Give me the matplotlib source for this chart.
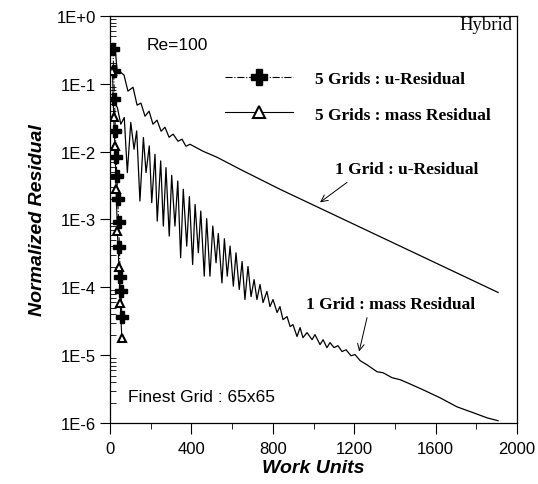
import matplotlib
matplotlib.use("Agg")
import matplotlib.pyplot as plt
from matplotlib.ticker import FixedLocator, FixedFormatter, LogLocator, NullFormatter

SANS = "Liberation Sans"
SERIF = "Liberation Serif"

# 1 grid, u-residual (work units, residual)
u1_work = [25, 34, 69, 88, 113, 133, 152, 172, 192, 211, 231, 251, 270, 290, 310,
           334, 354, 373, 393, 457, 526, 639, 835, 1907]
u1_res = [0.35, 0.165, 0.134, 0.078, 0.089, 0.0485, 0.0519, 0.0333, 0.0395, 0.0254,
          0.0291, 0.0200, 0.0229, 0.0163, 0.0181, 0.01425, 0.01525, 0.0120, 0.01285,
          0.01014, 0.00826, 0.0055, 0.00279, 8.4e-5]

# 1 grid, mass residual
m1_work = [25, 36, 53, 70, 85, 102, 118, 131, 147, 164, 177, 193, 205, 221, 232, 249,
           262, 275, 291, 303, 319, 333, 347, 360, 377, 390, 406, 418, 434, 446, 463,
           475, 491, 505, 521, 532, 550, 562, 576, 590, 606, 619, 635, 649, 663, 678,
           693, 708, 722, 737, 752, 771, 786, 801, 821, 835, 850, 870, 885, 899, 919,
           934, 948, 968, 993, 1007, 1032, 1047, 1066, 1081, 1101, 1120, 1140, 1160,
           1184, 1204, 1229, 1263, 1312, 1342, 1386, 1425, 1460, 1538, 1622, 1705,
           1784, 1853, 1907]
m1_res = [0.0501, 0.0448, 0.0254, 0.0319, 0.00491, 0.0269, 0.01085, 0.0202, 0.00187,
          0.01615, 0.00491, 0.01214, 0.00177, 0.00916, 0.000947, 0.0073, 0.0008,
          0.00582, 0.000569, 0.00448, 0.0008, 0.00369, 0.000273, 0.00279, 0.000405,
          0.00217, 0.000217, 0.00167, 0.000323, 0.00133, 0.000146, 0.00103, 0.000146,
          0.0008, 0.00023, 0.000623, 0.000116, 0.00052, 0.000146, 0.000405, 0.000104,
          0.000323, 9.3e-5, 0.00024, 6.6e-5, 0.000203, 7.3e-5, 0.00013, 6.6e-5,
          0.00011, 5.96e-5, 8.7e-5, 5.2e-5, 6.6e-5, 4.25e-5, 5.2e-5, 3.34e-5, 3.7e-5,
          2.64e-5, 2.82e-5, 1.88e-5, 2.55e-5, 1.81e-5, 2.15e-5, 1.69e-5, 2.01e-5,
          1.43e-5, 1.69e-5, 1.29e-5, 1.53e-5, 1.29e-5, 1.38e-5, 1.13e-5, 1.2e-5,
          9.8e-6, 1.02e-5, 8.3e-6, 7.2e-6, 5.7e-6, 5.5e-6, 4.65e-6, 4.35e-6, 3.93e-6,
          3.09e-6, 2.35e-6, 1.73e-6, 1.42e-6, 1.19e-6, 1.08e-6]

# 5 grids
u5_work = [14, 18, 22, 26, 30, 34, 38, 42, 46, 50, 54, 58]
u5_res = [0.326, 0.154, 0.0594, 0.02, 0.00826, 0.00433, 0.00198, 0.000906,
          0.000387, 0.000144, 8.7e-5, 3.7e-5]
m5_work = [12, 18, 24, 30, 36, 44, 50, 58]
m5_res = [0.154, 0.0322, 0.012, 0.00279, 0.000667, 0.000196, 5.96e-5, 1.81e-5]

y_ticks = [1e-6, 1e-5, 1e-4, 1e-3, 1e-2, 1e-1, 1e0]
y_labels = ["1E-6", "1E-5", "1E-4", "1E-3", "1E-2", "1E-1", "1E+0"]
x_ticks = [0, 400, 800, 1200, 1600, 2000]

fig = plt.figure(figsize=(5.38, 4.85), dpi=100)
ax = fig.add_axes([0.2045, 0.1258, 0.7565, 0.8392])

ax.plot(u1_work, u1_res, color="black", lw=0.9)
ax.plot(m1_work, m1_res, color="black", lw=0.9)
ax.plot(u5_work, u5_res, color="black", lw=0.8, ls="-.", marker="P", ms=8,
        mfc="black", mec="black", label="5 Grids : u-Residual")
ax.plot(m5_work, m5_res, color="black", lw=0.8, marker="^", ms=6, mfc="white",
        mec="black", mew=1.5, label="5 Grids : mass Residual")

ax.set_yscale("log")
ax.set_xlim(0, 2000)
ax.set_ylim(1e-6, 1)
ax.yaxis.set_major_locator(FixedLocator(y_ticks))
ax.yaxis.set_major_formatter(FixedFormatter(y_labels))
ax.yaxis.set_minor_locator(LogLocator(base=10, subs=range(2, 10)))
ax.yaxis.set_minor_formatter(NullFormatter())
ax.set_xticks(x_ticks)
ax.set_xticks(range(200, 2000, 400), minor=True)

ax.tick_params(axis="y", which="major", direction="out", length=7, width=0.8,
               labelsize=12, pad=3)
ax.tick_params(axis="y", which="minor", direction="in", length=4, width=0.6)
ax.tick_params(axis="x", which="major", direction="out", length=8, width=0.8,
               labelsize=12, pad=5)
ax.tick_params(axis="x", which="minor", direction="out", length=4, width=0.6)
for lab in ax.get_xticklabels() + ax.get_yticklabels():
    lab.set_fontfamily(SANS)
for sp in ax.spines.values():
    sp.set_linewidth(0.9)

ax.set_xlabel("Work Units", fontfamily=SANS, fontsize=14, fontweight="bold",
              fontstyle="italic", labelpad=2)
ax.set_ylabel("Normalized Residual", fontfamily=SANS, fontsize=14,
              fontweight="bold", fontstyle="italic", labelpad=8)

ax.text(0.091, 0.931, "Re=100", transform=ax.transAxes, fontfamily=SANS,
        fontsize=12.5, va="center", ha="left")
ax.text(0.99, 0.978, "Hybrid", transform=ax.transAxes, fontfamily=SERIF,
        fontsize=13.5, va="center", ha="right")
ax.text(0.044, 0.064, "Finest Grid : 65x65", transform=ax.transAxes,
        fontfamily=SANS, fontsize=12.5, va="center", ha="left")
ax.text(0.730, 0.623, "1 Grid : u-Residual", transform=ax.transAxes,
        fontfamily=SERIF, fontsize=12.5, fontweight="bold", va="center", ha="center")
ax.text(0.690, 0.293, "1 Grid : mass Residual", transform=ax.transAxes,
        fontfamily=SERIF, fontsize=12.5, fontweight="bold", va="center", ha="center")

arrow = dict(arrowstyle="->", color="black", lw=0.7, shrinkA=0, shrinkB=0,
             mutation_scale=12)
ax.annotate("", xy=(1032, 1.79e-3), xytext=(1165, 3.53e-3), arrowprops=arrow)
ax.annotate("", xy=(1224, 1.13e-5), xytext=(1263, 3.58e-5), arrowprops=arrow)

leg = ax.legend(loc="upper left", bbox_to_anchor=(0.2826, 0.8645), frameon=False,
                borderpad=0, borderaxespad=0, handlelength=3.9, handletextpad=1.3,
                labelspacing=1.1, markerscale=1.5,
                prop={"family": SERIF, "weight": "bold", "size": 12.5})

fig.savefig("out.png", dpi=100)
